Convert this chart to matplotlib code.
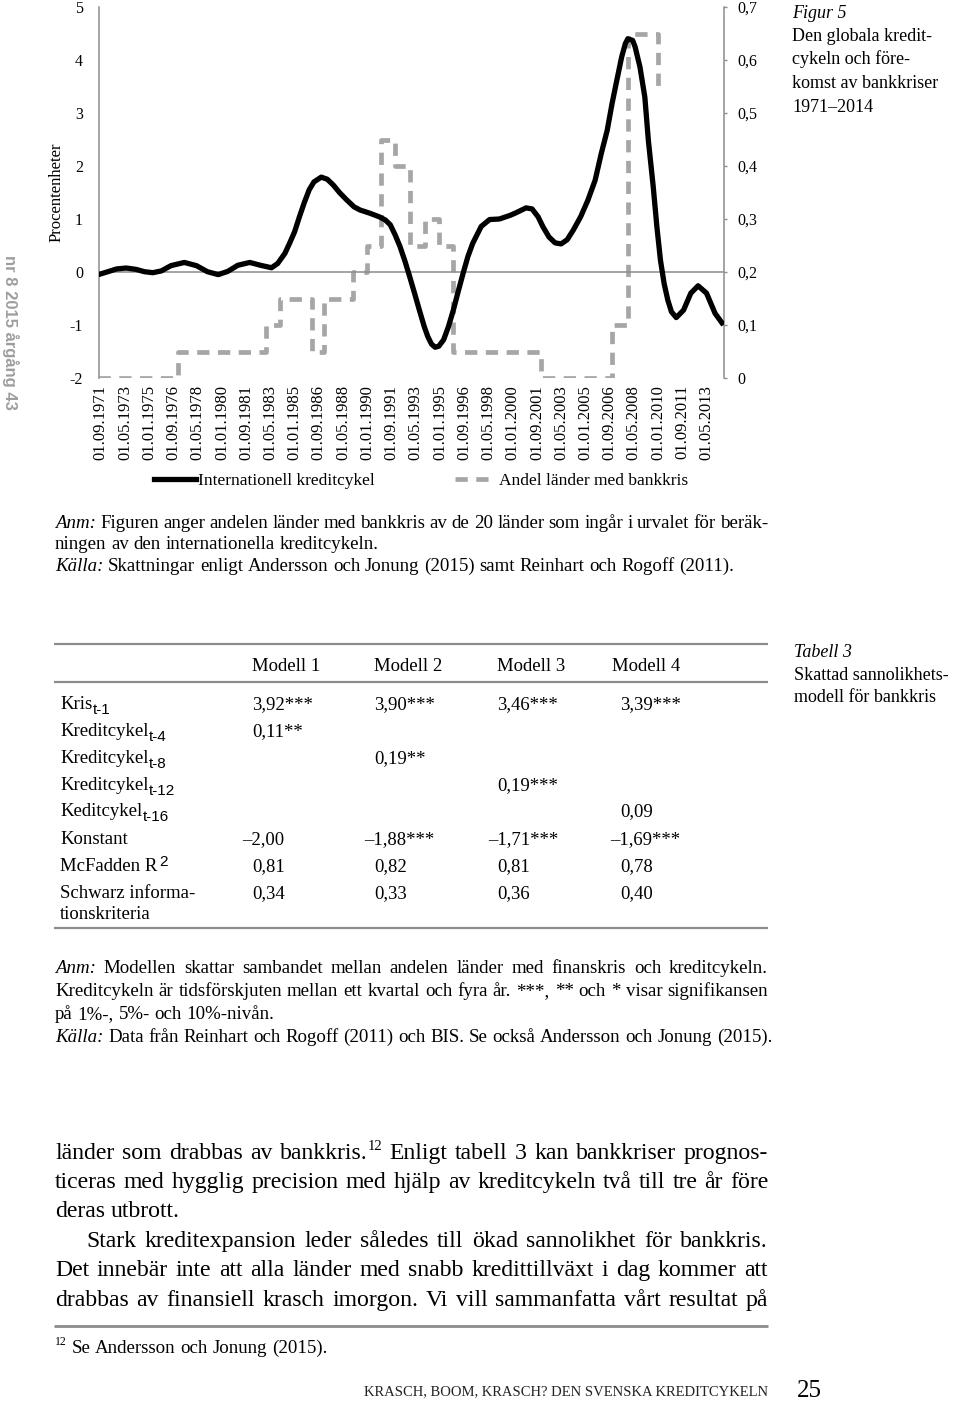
import pandas as pd
import matplotlib
matplotlib.use('Agg')
import matplotlib.pyplot as plt
from matplotlib.lines import Line2D

plt.rcParams['font.family'] = ['Liberation Serif', 'DejaVu Serif']

W, H, DPI = 960, 1403, 100

# ---- figure data ----
tick_labels = ['01.09.1971', '01.05.1973', '01.01.1975', '01.09.1976', '01.05.1978',
               '01.01.1980', '01.09.1981', '01.05.1983', '01.01.1985', '01.09.1986',
               '01.05.1988', '01.01.1990', '01.09.1991', '01.05.1993', '01.01.1995',
               '01.09.1996', '01.05.1998', '01.01.2000', '01.09.2001', '01.05.2003',
               '01.01.2005', '01.09.2006', '01.05.2008', '01.01.2010', '01.09.2011',
               '01.05.2013']

# Internationell kreditcykel (left axis, procentenheter)
credit_dates = ['1971-07', '1972-03', '1972-10', '1973-06', '1974-02', '1974-09', '1975-04',
                '1975-11', '1976-07', '1977-06', '1978-04', '1979-01', '1979-10', '1980-06',
                '1981-02', '1981-12', '1982-09', '1983-06', '1983-11', '1984-05', '1984-09',
                '1985-01', '1985-05', '1985-09', '1986-01', '1986-05', '1986-11', '1987-04',
                '1987-09', '1988-02', '1988-08', '1989-02', '1989-07', '1990-03', '1990-11',
                '1991-04', '1991-08', '1991-12', '1992-04', '1992-08', '1992-12', '1993-04',
                '1993-08', '1993-12', '1994-03', '1994-06', '1994-09', '1994-12', '1995-04',
                '1995-08', '1995-12', '1996-04', '1996-08', '1996-12', '1997-04', '1997-11',
                '1998-06', '1999-02', '1999-11', '2000-04', '2000-12', '2001-05', '2001-10',
                '2002-02', '2002-07', '2002-12', '2003-05', '2003-10', '2004-03', '2004-09',
                '2005-03', '2005-09', '2006-02', '2006-07', '2006-11', '2007-03', '2007-07',
                '2007-10', '2007-12', '2008-04', '2008-06', '2008-10', '2009-02', '2009-05',
                '2009-09', '2009-12', '2010-03', '2010-06', '2010-09', '2010-12', '2011-04',
                '2011-10', '2012-04', '2012-10', '2013-05', '2013-12', '2014-07']
credit_vals = [-0.05, 0.006, 0.057, 0.075, 0.05, 0.006, -0.013,
               0.02, 0.12, 0.18, 0.12, 0.006, -0.05, 0.013,
               0.126, 0.18, 0.126, 0.08, 0.16, 0.35, 0.55,
               0.76, 1.04, 1.31, 1.55, 1.70, 1.79, 1.75,
               1.64, 1.50, 1.36, 1.23, 1.17, 1.11, 1.04,
               0.98, 0.89, 0.70, 0.48, 0.21, -0.09, -0.40,
               -0.72, -1.03, -1.22, -1.36, -1.42, -1.40, -1.28,
               -1.03, -0.72, -0.37, -0.03, 0.29, 0.54, 0.86,
               0.99, 1.00, 1.07, 1.12, 1.21, 1.19, 1.04,
               0.85, 0.66, 0.55, 0.53, 0.61, 0.79, 1.04,
               1.35, 1.73, 2.23, 2.67, 3.18, 3.62, 4.06,
               4.31, 4.40, 4.37, 4.25, 3.87, 3.30, 2.48,
               1.60, 0.85, 0.22, -0.22, -0.53, -0.75, -0.86,
               -0.72, -0.40, -0.26, -0.40, -0.78, -1.00]

# Andel länder med bankkris (right axis), value from each start date
crisis_start = ['1971-07', '1977-01', '1983-01', '1984-01', '1986-03', '1987-01', '1989-01',
                '1990-01', '1990-12', '1991-12', '1992-12', '1994-01', '1994-12', '1995-12',
                '2001-12', '2006-11', '2007-12', '2010-01']
crisis_share = [0.00, 0.05, 0.10, 0.15, 0.05, 0.15, 0.20,
                0.25, 0.45, 0.40, 0.25, 0.30, 0.25, 0.05,
                0.00, 0.10, 0.65, 0.55]
crisis_end = '2010-04'

left_ticks = [-2, -1, 0, 1, 2, 3, 4, 5]
left_labels = ['-2', '-1', '0', '1', '2', '3', '4', '5']
right_ticks = [0, 0.1, 0.2, 0.3, 0.4, 0.5, 0.6, 0.7]
right_labels = ['0', '0,1', '0,2', '0,3', '0,4', '0,5', '0,6', '0,7']

# ---- table data ----
table_headers = ['Modell 1', 'Modell 2', 'Modell 3', 'Modell 4']
table_rows = ['Kris', 'Kreditcykel', 'Kreditcykel', 'Kreditcykel', 'Keditcykel',
              'Konstant', 'McFadden R', 'Schwarz informa-']
table_subs = ['t-1', 't-4', 't-8', 't-12', 't-16', '', '', '']
modell1 = ['3,92***', '0,11**', '', '', '', '–2,00', '0,81', '0,34']
modell2 = ['3,90***', '', '0,19**', '', '', '–1,88***', '0,82', '0,33']
modell3 = ['3,46***', '', '', '0,19***', '', '–1,71***', '0,81', '0,36']
modell4 = ['3,39***', '', '', '', '0,09', '–1,69***', '0,78', '0,40']

GRAY = '#8c8c8c'

fig = plt.figure(figsize=(W / DPI, H / DPI), dpi=DPI)
renderer = fig.canvas.get_renderer()

# page layer in pixel coordinates
page = fig.add_axes([0, 0, 1, 1])
page.set_xlim(0, W)
page.set_ylim(H, 0)
page.axis('off')


def text_w(s, size, style='normal'):
    t = page.text(0, 0, s, fontsize=size, style=style)
    w = t.get_window_extent(renderer=renderer).width
    t.remove()
    return w


def parse(s):
    words = []
    for w in s.split(' '):
        if w.startswith('_') and w.endswith('_'):
            words.append([(w[1:-1], 'italic', False)])
        elif '^' in w:
            a, b = w.split('^')
            parts = [(a, 'normal', False)] if a else []
            parts.append((b, 'normal', True))
            words.append(parts)
        else:
            words.append([(w, 'normal', False)])
    return words


def word_widths(s, size):
    return [sum(text_w(t, size * 0.62 if sup else size, st) for t, st, sup in parts)
            for parts in parse(s)]


def space_w(size):
    return text_w('a a', size) - text_w('aa', size)


def natural_w(s, size):
    ws = word_widths(s, size)
    return sum(ws) + (len(ws) - 1) * space_w(size)


def draw_line(s, y, size, x0=55, x1=768, justify=True):
    words = parse(s)
    widths = word_widths(s, size)
    if justify and len(words) > 1:
        gap = (x1 - x0 - sum(widths)) / (len(words) - 1)
    else:
        gap = space_w(size)
    em = size * DPI / 72
    base = y + 0.3 * em
    x = x0
    for parts, w in zip(words, widths):
        xx = x
        for t, st, sup in parts:
            sz = size * 0.62 if sup else size
            page.text(xx, base - (0.4 * em if sup else 0), t, fontsize=sz, style=st,
                      ha='left', va='baseline')
            xx += text_w(t, sz, st)
        x += w + gap


# ---- chart ----
ax = fig.add_axes([99 / W, 1 - 378 / H, (723.5 - 99) / W, (378 - 7) / H])
ax2 = ax.twinx()
ax.set_zorder(ax2.get_zorder() + 1)
ax.patch.set_visible(False)

ax.axhline(0, color=GRAY, lw=1.1, zorder=1)
ax.plot(pd.to_datetime(credit_dates), credit_vals, color='black', lw=3.8,
        solid_joinstyle='round', solid_capstyle='butt', zorder=3)
ax2.step(pd.to_datetime(crisis_start + [crisis_end]), crisis_share + [crisis_share[-1]],
         where='post', color='#a6a6a6', lw=3.4, dashes=(2.6, 1.8), dash_capstyle='butt')

ax.set_xlim(pd.Timestamp('1971-07-20'), pd.Timestamp('2014-07-01'))
ax.set_ylim(-2, 5)
ax2.set_ylim(0, 0.7)

ax.set_xticks(pd.to_datetime(tick_labels, format='%d.%m.%Y'))
ax.set_xticklabels(tick_labels, rotation=90, fontsize=12)
ax.tick_params(axis='x', length=0, pad=5)
ax.set_yticks(left_ticks)
ax.set_yticklabels(left_labels, fontsize=11.5)
ax.tick_params(axis='y', length=0, pad=11.5)
ax2.set_yticks(right_ticks)
ax2.set_yticklabels(right_labels, fontsize=11.5)
ax2.tick_params(axis='y', length=2.5, width=1, color=GRAY, pad=7.5)

for side in ['top', 'right', 'bottom']:
    ax.spines[side].set_visible(False)
ax.spines['left'].set_color(GRAY)
ax.spines['left'].set_linewidth(1.1)
for side in ['top', 'left', 'bottom']:
    ax2.spines[side].set_visible(False)
ax2.spines['right'].set_color(GRAY)
ax2.spines['right'].set_linewidth(1.1)

page.text(57, 192, 'Procentenheter', rotation=90, ha='center', va='center', fontsize=12)

handles = [Line2D([], [], color='black', lw=3.8),
           Line2D([], [], color='#a6a6a6', lw=3.4, dashes=(2.6, 1.8), dash_capstyle='butt')]
fig.legend(handles, ['Internationell kreditcykel', 'Andel länder med bankkris'],
           loc='center', bbox_to_anchor=(421 / W, 1 - 481 / H), ncol=2, frameon=False,
           fontsize=12.5, handlelength=2.4, handletextpad=0.15, columnspacing=4.6)

# side label
page.text(10, 332, 'nr 8 2015 årgång 43', rotation=-90, ha='center', va='center',
          family='Liberation Sans', weight='bold', color='#9e9e9e', fontsize=12)

# figure caption
page.text(792, 18, 'Figur 5', style='italic', fontsize=13, ha='left', va='baseline')
for i, s in enumerate(['Den globala kredit-', 'cykeln och före-', 'komst av bankkriser',
                       '1971–2014']):
    page.text(792, 41 + i * 23.5, s, fontsize=13, ha='left', va='baseline')

# notes under figure
notes1 = ['_Anm:_ Figuren anger andelen länder med bankkris av de 20 länder som ingår i urvalet för beräk-',
          'ningen av den internationella kreditcykeln.',
          '_Källa:_ Skattningar enligt Andersson och Jonung (2015) samt Reinhart och Rogoff (2011).']
note_size = 10 * 680 / natural_w(notes1[2], 10)
draw_line(notes1[0], 522, note_size)
draw_line(notes1[1], 543, note_size, justify=False)
draw_line(notes1[2], 565, note_size, justify=False)

# ---- table ----
TS = 13.5
page.hlines([644, 682, 928], 54, 768, color=GRAY, lw=1.6)
header_x = [252, 374, 497, 612]
col_x = [252, 374, 497, 620]
for hx, h in zip(header_x, table_headers):
    page.text(hx, 671, h, fontsize=TS, ha='left', va='baseline')

row_y = [709, 736, 763, 790, 816, 844, 871, 898]
dash_w = text_w('–', TS)
for i, (lab, sub, y) in enumerate(zip(table_rows, table_subs, row_y)):
    t = page.text(60, y, lab, fontsize=TS, ha='left', va='baseline')
    if sub:
        page.annotate(sub, xy=(1, 0), xycoords=t, xytext=(0.5, 2), textcoords='offset points',
                      ha='left', va='center', family='Liberation Sans', fontsize=11)
    if lab == 'McFadden R':
        page.annotate('2', xy=(1, 1), xycoords=t, xytext=(1, -3), textcoords='offset points',
                      ha='left', va='center', family='Liberation Sans', fontsize=11)
    for cx, col in zip(col_x, [modell1, modell2, modell3, modell4]):
        v = col[i]
        if v:
            x = cx - dash_w if v.startswith('–') else cx
            page.text(x, y, v, fontsize=TS, ha='left', va='baseline')
page.text(60, 919, 'tionskriteria', fontsize=TS, ha='left', va='baseline')

page.text(794, 657, 'Tabell 3', style='italic', fontsize=13, ha='left', va='baseline')
page.text(794, 680, 'Skattad sannolikhets-', fontsize=13, ha='left', va='baseline')
page.text(794, 702, 'modell för bankkris', fontsize=13, ha='left', va='baseline')

notes2 = ['_Anm:_ Modellen skattar sambandet mellan andelen länder med finanskris och kreditcykeln.',
          'Kreditcykeln är tidsförskjuten mellan ett kvartal och fyra år. ***, ** och * visar signifikansen',
          'på 1%-, 5%- och 10%-nivån.',
          '_Källa:_ Data från Reinhart och Rogoff (2011) och BIS. Se också Andersson och Jonung (2015).']
draw_line(notes2[0], 967, note_size)
draw_line(notes2[1], 990, note_size)
draw_line(notes2[2], 1013, note_size, justify=False)
draw_line(notes2[3], 1036, note_size, justify=False)

# ---- body text ----
body = ['länder som drabbas av bankkris.^12 Enligt tabell 3 kan bankkriser prognos-',
        'ticeras med hygglig precision med hjälp av kreditcykeln två till tre år före',
        'deras utbrott.',
        'Stark kreditexpansion leder således till ökad sannolikhet för bankkris.',
        'Det innebär inte att alla länder med snabb kredittillväxt i dag kommer att',
        'drabbas av finansiell krasch imorgon. Vi vill sammanfatta vårt resultat på']
body_size = 10 * 700 / max(natural_w(s, 10) for s in [body[0], body[1], body[4], body[5]])
body_y = [1152, 1181, 1210, 1240, 1269, 1299]
for i, (s, y) in enumerate(zip(body, body_y)):
    draw_line(s, y, body_size, x0=86 if i == 3 else 55, justify=(i != 2))

page.hlines(1326, 54, 768, color=GRAY, lw=2)
draw_line('^12 Se Andersson och Jonung (2015).', 1347, note_size, justify=False)

page.text(768, 1395, 'KRASCH, BOOM, KRASCH? DEN SVENSKA KREDITCYKELN', fontsize=10.5,
          ha='right', va='baseline', color='#222222')
page.text(797, 1397, '25', fontsize=18, ha='left', va='baseline')

fig.savefig('out.png', dpi=DPI)
